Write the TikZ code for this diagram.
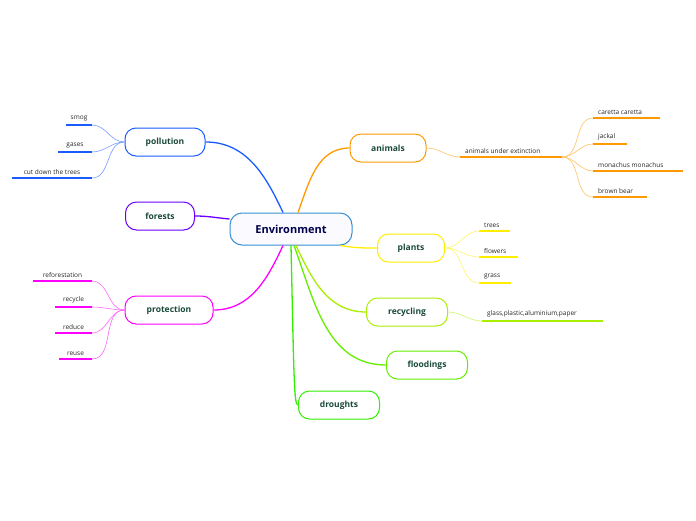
\documentclass[tikz,border=0pt]{standalone}
\usepackage{fontspec}
\setmainfont{Open Sans}
\usetikzlibrary{calc}
\begin{document}
\begin{tikzpicture}[x=1pt,y=-1pt,
  topic/.style={draw, line width=1pt, rounded corners=11pt, fill=white, minimum height=28pt, font=\fontsize{8.5}{10}\selectfont\bfseries, text=textgreen, inner xsep=0pt},
  leaf/.style={font=\fontsize{6.5}{8}\selectfont, text=black!85, anchor=south, inner sep=3.5pt},
  rleaf/.style={leaf, anchor=south west, inner xsep=1pt},
  uline/.style={line width=1.5pt},
  main/.style={line width=1.3pt},
  sub/.style={line width=0.6pt}]
\definecolor{textgreen}{HTML}{1A4A3A}
\definecolor{cpol}{HTML}{1A5CFF}
\definecolor{cani}{HTML}{FF9900}
\definecolor{cfor}{HTML}{6A00FF}
\definecolor{cpro}{HTML}{FF00FF}
\definecolor{cpla}{HTML}{FFEE00}
\definecolor{crec}{HTML}{AAEE00}
\definecolor{cflo}{HTML}{66EE00}
\definecolor{cdro}{HTML}{33EE00}
\definecolor{cenv}{HTML}{3A8FD0}
\useasboundingbox (0,0) rectangle (696,520);
\node[fill=blue!2, draw=cenv, line width=1pt, rounded corners=12pt, minimum width=122pt, minimum height=32pt, font=\fontsize{11}{13}\selectfont\bfseries, text=blue!30!black] (env) at (291,229) {Environment};
\node[topic, draw=cpol, minimum width=80pt] (pol) at (165,142) {pollution};
\node[topic, draw=cfor, minimum width=69pt] (for) at (160,216) {forests};
\node[topic, draw=cpro, minimum width=88pt] (pro) at (169,310) {protection};
\node[topic, draw=cani, minimum width=76pt] (ani) at (388,148) {animals};
\node[topic, draw=cpla, minimum width=67pt] (pla) at (411,248) {plants};
\node[topic, draw=crec, minimum width=81pt] (rec) at (407,312) {recycling};
\node[topic, draw=cflo, minimum width=81pt] (flo) at (427,365) {floodings};
\node[topic, draw=cdro, minimum width=81pt] (dro) at (339,405) {droughts};
% main connectors
\draw[main,cpol] ([xshift=-8pt]env.north) to[out=115,in=0] (pol.east);
\draw[main,cani] ([xshift=7pt]env.north) to[out=70,in=180] (ani.west);
\draw[main,cfor] (for.east) to[out=0,in=175] ([yshift=10pt]env.west);
\draw[main,cpro] ([xshift=-8pt]env.south) to[out=-115,in=0] (pro.east);
\draw[main,cpla] ([xshift=-12pt]env.south east) to[out=-10,in=180] (pla.west);
\draw[main,crec] ([xshift=5pt]env.south) to[out=-65,in=180] (rec.west);
\draw[main,cflo] ([xshift=3pt]env.south) to[out=-70,in=180] (flo.west);
\draw[main,cdro] (env.south) .. controls (294,380) and (294,405) .. (dro.west);
% leaves
\foreach \n/\t/\a/\b/\y/\c/\p/\s in {
 sm/smog/66/92/125/cpol/pol/west, ga/gases/58/92/152/cpol/pol/west, cu/cut down the trees/12/92/178/cpol/pol/west,
 rf/reforestation/33/92/281/cpro/pro/west, ry/recycle/55/92/307/cpro/pro/west, rd/reduce/55/92/333/cpro/pro/west, ru/reuse/59/92/359/cpro/pro/west}{
 \coordinate (\n a) at (\a,\y); \coordinate (\n b) at (\b,\y);
 \draw[uline,\c] (\n a) -- (\n b);
 \node[leaf] at ($(\n a)!0.5!(\n b)$) {\t};
 \draw[sub,\c!60] (\n b) to[out=0,in=180] (\p.\s);
}
\foreach \n/\t/\a/\b/\y/\c/\p/\s in {
 ae/animals under extinction/460/562/157/cani/ani/east,
 tr/trees/479/510/231/cpla/pla/east, fl/flowers/479/518/257/cpla/pla/east, gr/grass/479/511/283/cpla/pla/east,
 gl/{glass,plastic,aluminium,paper}/482/603/321/crec/rec/east}{
 \coordinate (\n a) at (\a,\y); \coordinate (\n b) at (\b,\y);
 \draw[uline,\c] (\n a) -- (\n b);
 \node[rleaf] at ([xshift=4pt]\n a) {\t};
 \draw[sub,\c!60] (\p.\s) to[out=0,in=180] (\n a);
}
\foreach \n/\t/\b/\y in {ca/caretta caretta/660/118, ja/jackal/627/144, mo/monachus monachus/683/171, bb/brown bear/647/197}{
 \coordinate (\n a) at (593,\y); \coordinate (\n b) at (\b,\y);
 \draw[uline,cani] (\n a) -- (\n b);
 \node[rleaf] at ([xshift=4pt]\n a) {\t};
 \draw[sub,cani!60] (aeb) to[out=0,in=180] (\n a);
}
\end{tikzpicture}
\end{document}
